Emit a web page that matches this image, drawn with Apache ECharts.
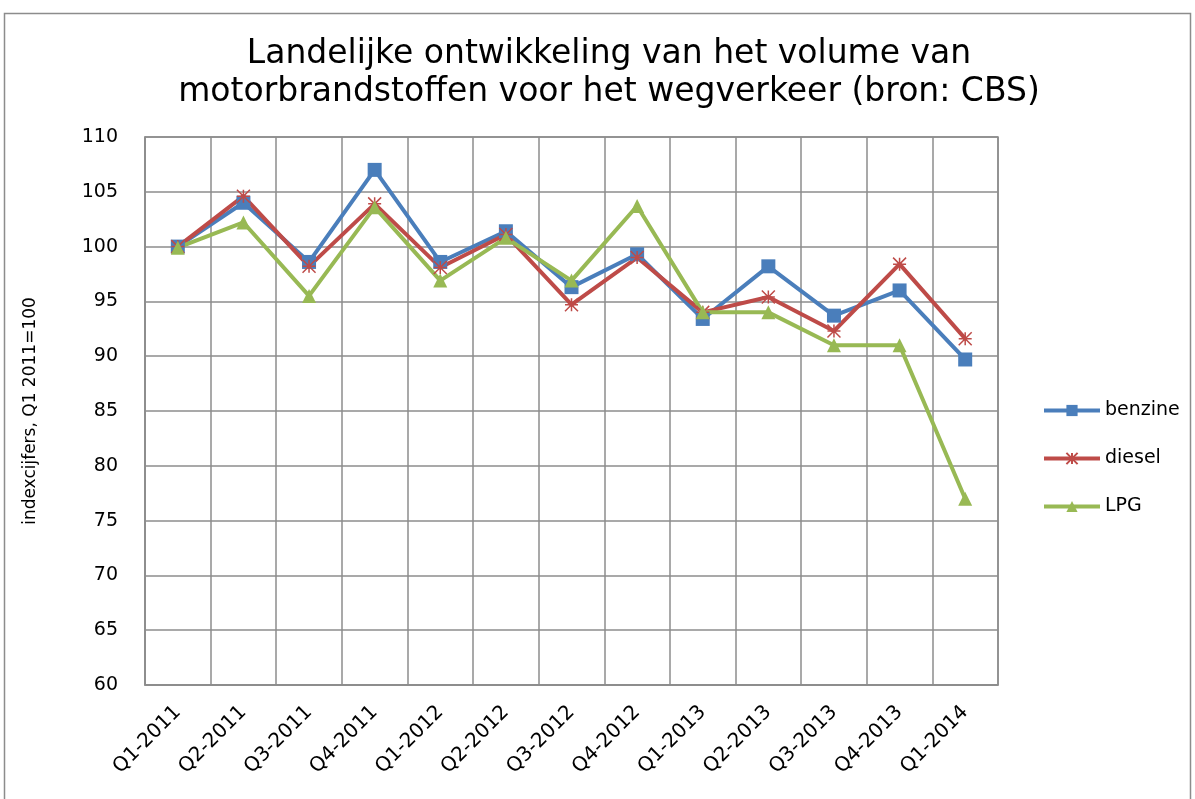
<!DOCTYPE html>
<html>
<head>
<meta charset="utf-8">
<script src="https://cdn.jsdelivr.net/npm/echarts@6/dist/echarts.min.js"></script>
<style>
  html, body { margin: 0; padding: 0; background: #fff; }
  #chart { width: 1195px; height: 799px; }
</style>
</head>
<body>
<div id="chart"></div>
<script>
(function() {
  'use strict';

  var categories = ['Q1-2011', 'Q2-2011', 'Q3-2011', 'Q4-2011', 'Q1-2012', 'Q2-2012', 'Q3-2012',
    'Q4-2012', 'Q1-2013', 'Q2-2013', 'Q3-2013', 'Q4-2013', 'Q1-2014'];
  var benzine = [100, 104.0, 98.6, 107.0, 98.6, 101.4, 96.3, 99.3, 93.4, 98.2, 93.7, 96.0, 89.7];
  var diesel = [100, 104.6, 98.2, 103.9, 98.1, 101.1, 94.7, 99.0, 94.0, 95.4, 92.3, 98.4, 91.6];
  var lpg = [99.9, 102.2, 95.5, 103.6, 96.9, 100.8, 96.9, 103.7, 94.0, 94.0, 91.0, 91.0, 77.0];

  var font = 'DejaVu Sans, sans-serif';
  var gridColor = '#8c8c8c';
  var asterisk = 'path://M0,0L10,10M10,0L0,10M5,0L5,10M0,5L10,5';

  var chart = echarts.init(document.getElementById('chart'), null, { renderer: 'canvas' });

  function lineSeries(name, data, color, symbol, size, extra) {
    var s = {
      name: name,
      type: 'line',
      data: data,
      symbol: symbol,
      symbolSize: size,
      showAllSymbol: true,
      lineStyle: { color: color, width: 4 },
      itemStyle: { color: color },
      emphasis: { disabled: true }
    };
    if (extra) s.itemStyle = extra;
    return s;
  }

  chart.setOption({
    animation: false,
    backgroundColor: '#fff',
    graphic: [{
      type: 'rect',
      shape: { x: 4.5, y: 13.5, width: 1186, height: 800 },
      style: { fill: 'none', stroke: '#8c8c8c', lineWidth: 1.5 },
      silent: true
    }],
    title: {
      text: 'Landelijke ontwikkeling van het volume van\nmotorbrandstoffen voor het wegverkeer (bron: CBS)',
      left: 604,
      textAlign: 'center',
      top: 30,
      textStyle: { fontFamily: font, fontSize: 33, fontWeight: 'normal', color: '#000', lineHeight: 38 }
    },
    legend: {
      orient: 'vertical',
      left: 1037,
      top: 396,
      itemWidth: 56,
      itemHeight: 14,
      itemGap: 29,
      lineStyle: { width: 4 },
      textStyle: { fontFamily: font, fontSize: 19, color: '#000' },
      data: ['benzine', 'diesel', 'LPG']
    },
    grid: {
      left: 145,
      right: 197,
      top: 137,
      bottom: 114,
      show: true,
      borderColor: gridColor,
      borderWidth: 1.5
    },
    xAxis: {
      type: 'category',
      data: categories,
      boundaryGap: true,
      axisLine: { show: true, lineStyle: { color: gridColor, width: 1.5 } },
      axisTick: { show: false },
      splitLine: { show: true, lineStyle: { color: gridColor, width: 1.5 } },
      axisLabel: { rotate: 45, margin: 24, fontFamily: font, fontSize: 20, color: '#000', interval: 0 }
    },
    yAxis: {
      type: 'value',
      min: 60,
      max: 110,
      interval: 5,
      name: 'indexcijfers, Q1 2011=100',
      nameLocation: 'middle',
      nameGap: 106,
      nameTextStyle: { fontFamily: font, fontSize: 17, color: '#000' },
      axisLine: { show: true, lineStyle: { color: gridColor, width: 1.5 } },
      axisTick: { show: false },
      splitLine: { show: true, lineStyle: { color: gridColor, width: 1.5 } },
      axisLabel: { margin: 27, fontFamily: font, fontSize: 19, color: '#000' }
    },
    series: [
      lineSeries('benzine', benzine, '#4a7ebb', 'rect', 14),
      lineSeries('diesel', diesel, '#be4b48', asterisk, 13,
        { color: 'rgba(0,0,0,0)', borderColor: '#be4b48', borderWidth: 1.5 }),
      lineSeries('LPG', lpg, '#98b954', 'triangle', 14)
    ]
  });

  window.addEventListener('resize', function() {
    chart.resize();
  });
})();
</script>
</body>
</html>
